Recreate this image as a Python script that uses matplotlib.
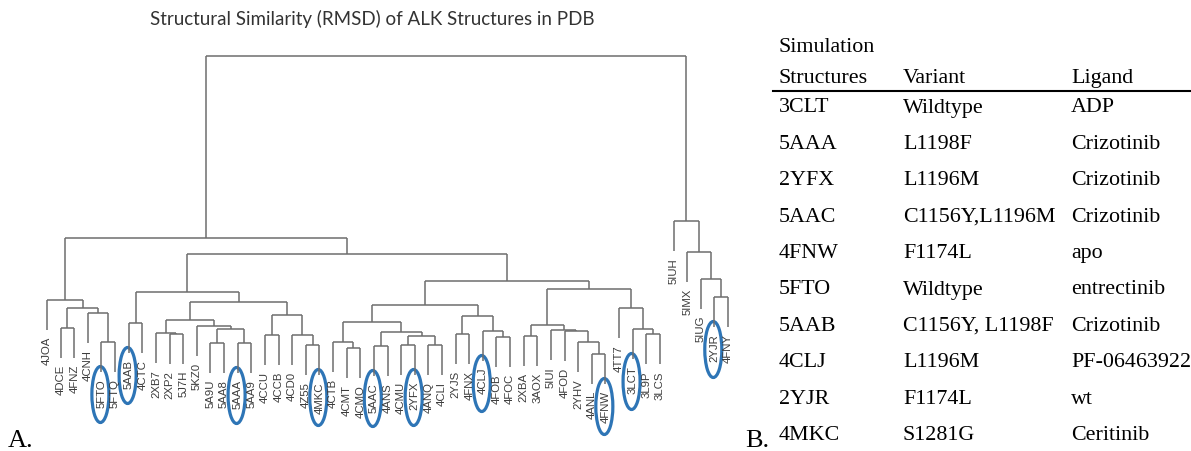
import matplotlib
matplotlib.use("Agg")
import matplotlib.pyplot as plt
from matplotlib.patches import Ellipse

# ---------------- data ----------------
leaf_labels = ["4JOA", "4DCE", "4FNZ", "4CNH", "5FTO", "5FTQ", "5AAB", "4CTC",
               "2XB7", "2XP2", "5J7H", "5KZ0", "5A9U", "5AA8", "5AAA", "5AA9",
               "4CCU", "4CCB", "4CD0", "4Z55", "4MKC", "4CTB", "4CMT", "4CMO",
               "5AAC", "4ANS", "4CMU", "2YFX", "4ANQ", "4CLI", "2YJS", "4FNX",
               "4CLJ", "4FOB", "4FOC", "2XBA", "3AOX", "5IUI", "4FOD", "2YHV",
               "4ANL", "4FNW", "4TT7", "3LCT", "3L9P", "3LCS", "5IUH", "5IMX",
               "5IUG", "2YJR", "4FNY"]

# merges (linkage style): ids < 51 are leaves, id 51+k is merge k
merge_left = [1, 4, 3, 51, 0, 6, 9, 8, 12, 14, 59, 11, 58, 16, 19, 18, 64, 63, 56,
              22, 21, 24, 26, 28, 73, 72, 71, 30, 33, 32, 78, 77, 35, 40, 39, 38,
              37, 83, 44, 43, 42, 88, 82, 69, 55, 49, 48, 47, 46, 95]
merge_right = [2, 5, 52, 53, 54, 7, 10, 57, 13, 15, 60, 61, 62, 17, 20, 65, 66, 67,
               68, 23, 70, 25, 27, 29, 74, 75, 76, 31, 34, 79, 80, 81, 36, 41, 84,
               85, 86, 87, 45, 89, 90, 91, 92, 93, 94, 50, 96, 97, 98, 99]
merge_height = [0.42, 0.28, 0.57, 0.62, 0.70, 0.47, 0.36, 0.37, 0.27, 0.27, 0.41,
                0.44, 0.50, 0.35, 0.25, 0.35, 0.55, 0.68, 0.78, 0.22, 0.28, 0.24,
                0.25, 0.25, 0.34, 0.38, 0.48, 0.36, 0.33, 0.39, 0.54, 0.65, 0.34,
                0.16, 0.28, 0.39, 0.40, 0.45, 0.36, 0.41, 0.62, 0.81, 0.89, 1.16,
                1.32, 0.73, 0.91, 1.18, 1.49, 3.14]

highlighted = ["5FTO", "5AAB", "5AAA", "4MKC", "5AAC", "2YFX", "4CLJ", "4FNW",
               "3LCT", "2YJR"]

title = "Structural Similarity (RMSD) of ALK Structures in PDB"

table_structures = ["3CLT", "5AAA", "2YFX", "5AAC", "4FNW", "5FTO", "5AAB",
                    "4CLJ", "2YJR", "4MKC"]
table_variants = ["Wildtype", "L1198F", "L1196M", "C1156Y,L1196M", "F1174L",
                  "Wildtype", "C1156Y, L1198F", "L1196M", "F1174L", "S1281G"]
table_ligands = ["ADP", "Crizotinib", "Crizotinib", "Crizotinib", "apo",
                 "entrectinib", "Crizotinib", "PF-06463922", "wt", "Ceritinib"]

# ---------------- figure ----------------
W, H, DPI = 1191, 451, 100
fig = plt.figure(figsize=(W / DPI, H / DPI), dpi=DPI)
fig.patch.set_facecolor("white")

ax = fig.add_axes([0, 0, 740 / W, 1])
ax.axis("off")
ax.set_xlim(-47 / 13.62, (740 - 47) / 13.62)
ax.set_ylim((370 - 451) / 100, 3.70)

n = len(leaf_labels)
hang = 0.1 * (max(merge_height) - min(merge_height))
line_kw = dict(color="#6e6e6e", lw=1.1, solid_capstyle="butt")

xpos = {i: float(i) for i in range(n)}
hpos = {}
leaf_end = {}
for k, (a, b, h) in enumerate(zip(merge_left, merge_right, merge_height)):
    node = n + k
    for c in (a, b):
        if c < n:
            bottom = h - hang
            leaf_end[c] = bottom
        else:
            bottom = hpos[c]
        ax.plot([xpos[c], xpos[c]], [bottom, h], **line_kw)
    ax.plot([xpos[a], xpos[b]], [h, h], **line_kw)
    xpos[node] = (xpos[a] + xpos[b]) / 2
    hpos[node] = h

gap = 0.072
for i, lab in enumerate(leaf_labels):
    ax.text(i, leaf_end[i] - gap, lab, rotation=90, ha="center", va="top",
            fontsize=8.2, family="Liberation Sans", color="#3c3c3c")
    if lab in highlighted:
        cy = leaf_end[i] - gap - 0.155
        ax.add_patch(Ellipse((i - 0.08, cy), 1.25, 0.56, fill=False,
                             edgecolor="#2E75B6", lw=2.3))

fig.text(372 / W, 1 - 19 / H, title, ha="center", va="center",
         fontsize=13.5, family="Lato", color="#333333")

fig.text(8 / W, 1 - 447 / H, "A.", ha="left", va="baseline",
         fontsize=19, family="Liberation Serif")
fig.text(745 / W, 1 - 447 / H, "B.", ha="left", va="baseline",
         fontsize=19, family="Liberation Serif")

# ---------------- table ----------------
tfs = 15.8
col_x = [779, 903, 1071]
tkw = dict(ha="left", va="baseline", fontsize=tfs, family="Liberation Serif",
           color="black")
fig.text(col_x[0] / W, 1 - 52 / H, "Simulation", **tkw)
fig.text(col_x[0] / W, 1 - 83 / H, "Structures", **tkw)
fig.text(col_x[1] / W, 1 - 83 / H, "Variant", **tkw)
fig.text(col_x[2] / W, 1 - 83 / H, "Ligand", **tkw)
fig.add_artist(plt.Line2D([773 / W, 1.0], [1 - 91 / H, 1 - 91 / H],
                          transform=fig.transFigure, color="black", lw=1.5))
for r, (s, v, l) in enumerate(zip(table_structures, table_variants, table_ligands)):
    yb = 112.5 + 36.4 * r
    fig.text(col_x[0] / W, 1 - yb / H, s, **tkw)
    fig.text(col_x[1] / W, 1 - yb / H, v, **tkw)
    fig.text(col_x[2] / W, 1 - yb / H, l, **tkw)

fig.savefig("out.png", dpi=DPI, facecolor="white")
